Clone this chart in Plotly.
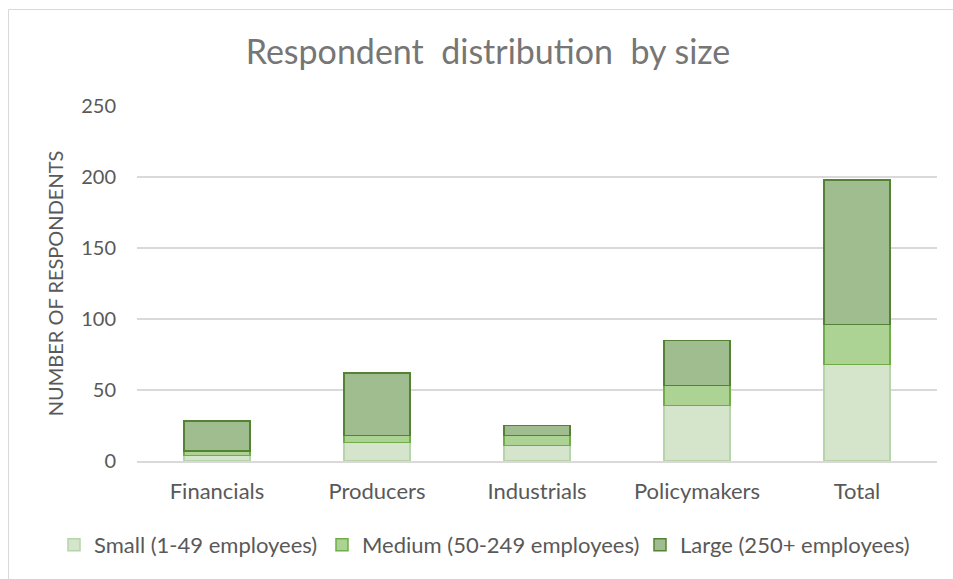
import plotly.graph_objects as go

categories = ["Financials", "Producers", "Industrials", "Policymakers", "Total"]
small = [4, 13, 11, 39, 68]
medium = [3, 5, 7, 14, 28]
large = [21, 44, 7, 32, 102]
series_names = ["Small (1-49 employees)", "Medium (50-249 employees)", "Large (250+ employees)"]
y_ticks = [0, 50, 100, 150, 200, 250]

FONT = "Lato, 'Open Sans', sans-serif"
W, H = 953, 579
L, R, T, B = 137, 16, 106, 118

fig = go.Figure()
styles = [
    ("#d4e5cc", "#b7d3aa"),
    ("#acd394", "#70ad47"),
    ("#a0bd8f", "#548235"),
]
legend_ids = ["legend", "legend2", "legend3"]
legend_left_px = [54, 322, 640]
for name, vals, (fill, line), lid in zip(series_names, [small, medium, large], styles, legend_ids):
    fig.add_trace(go.Bar(
        x=categories, y=vals, name=name, legend=lid,
        marker=dict(color=fill, line=dict(color=line, width=1.5)),
    ))

pw = W - L - R
ph = H - T - B
def px2x(px):
    return (px - L) / pw
def py2y(py):
    return (H - B - py) / ph

fig.add_shape(type="rect", xref="paper", yref="paper",
              x0=px2x(8.5), x1=px2x(980), y0=py2y(600), y1=py2y(9.5),
              line=dict(color="#d9d9d9", width=1), fillcolor="rgba(0,0,0,0)", layer="below")

legend_style = dict(orientation="h", xref="container", yref="container",
                    xanchor="left", y=1 - 545 / H, yanchor="middle",
                    font=dict(size=22, color="#595959"), itemwidth=30,
                    bgcolor="rgba(0,0,0,0)")

fig.update_layout(
    width=W, height=H,
    margin=dict(l=L, r=R, t=T, b=B, autoexpand=False),
    barmode="stack",
    bargap=0.59,
    paper_bgcolor="white",
    plot_bgcolor="white",
    font=dict(family=FONT, color="#595959", size=20),
    title=dict(text="Respondent  distribution  by size", x=488 / W, xanchor="center",
               y=1 - 52 / H, yanchor="middle", xref="container", yref="container",
               font=dict(size=34, color="#767676", family=FONT)),
    xaxis=dict(showgrid=False, showline=True, linecolor="#d9d9d9", linewidth=1.5,
               ticks="", tickangle=0, automargin=False, ticklabelstandoff=10,
               tickfont=dict(size=22, color="#595959")),
    yaxis=dict(range=[0, 250], tickvals=y_ticks, showgrid=True, gridcolor="#d9d9d9",
               gridwidth=1.5, zeroline=False, ticks="", ticklen=0, ticklabelstandoff=20,
               automargin=False, tickfont=dict(size=20, color="#595959"),
               title=dict(text="NUMBER OF RESPONDENTS", font=dict(size=20, color="#595959"), standoff=12)),
    legend=dict(x=legend_left_px[0] / W, **legend_style),
    legend2=dict(x=legend_left_px[1] / W, **legend_style),
    legend3=dict(x=legend_left_px[2] / W, **legend_style),
    showlegend=True,
)

fig.write_html("out.html")
